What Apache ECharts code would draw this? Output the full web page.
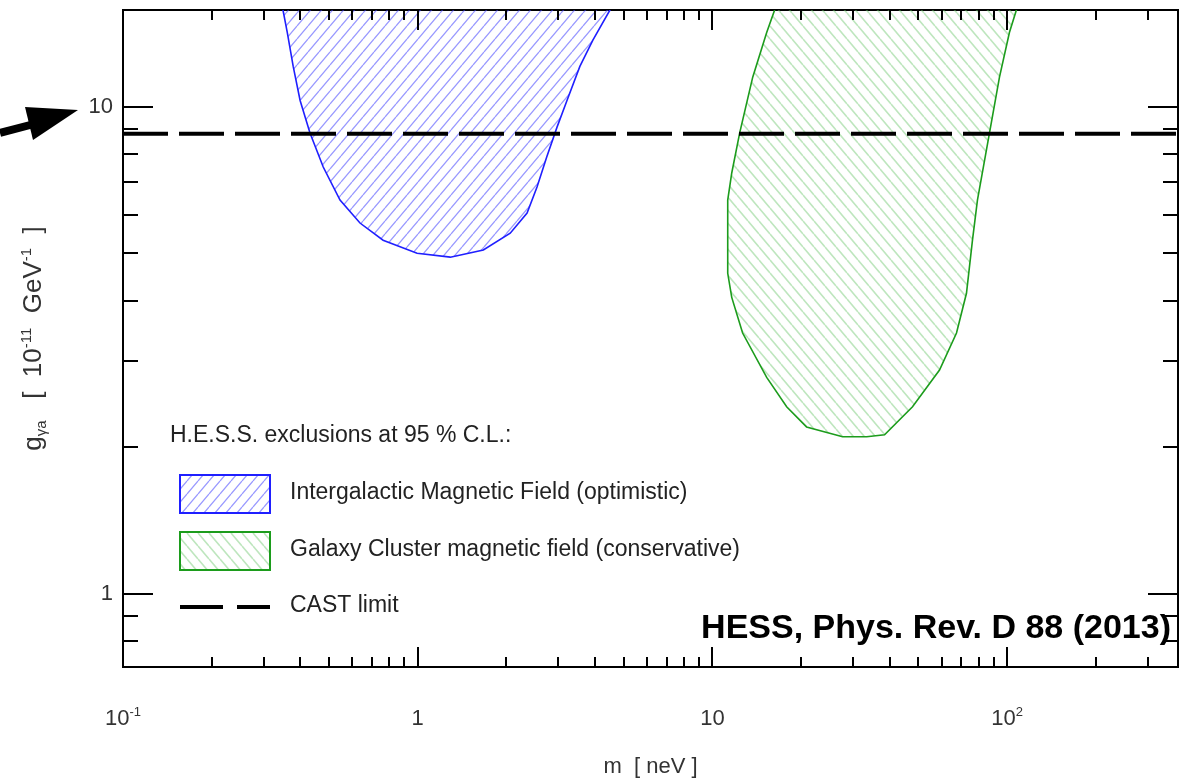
<!DOCTYPE html>
<html><head><meta charset="utf-8">
<script src="https://cdn.jsdelivr.net/npm/echarts@6/dist/echarts.min.js"></script>
<style>html,body{margin:0;padding:0;background:#fff}#c{width:1183px;height:783px}</style>
</head><body><div id="c"></div>
<script>
// ---- tick values ----
const xMajorTicks = [0.1, 1, 10, 100];
const xMinorTicks = [0.2,0.3,0.4,0.5,0.6,0.7,0.8,0.9,2,3,4,5,6,7,8,9,20,30,40,50,60,70,80,90,200,300];
const yMajorTicks = [1, 10];
const yMinorTicks = [0.8,0.9,2,3,4,5,6,7,8,9];
// ---- Intergalactic Magnetic Field (optimistic) exclusion boundary ----
const igmfMass     = [0.335, 0.349, 0.361, 0.378, 0.399, 0.431, 0.478, 0.545, 0.637, 0.763, 0.995, 1.29, 1.67, 2.06, 2.35, 2.54, 2.74, 2.97, 3.21, 3.55, 3.93, 4.49, 5.1];
const igmfCoupling = [18, 15.8, 14.2, 12.1, 10.3, 8.83, 7.52, 6.43, 5.77, 5.32, 5.00, 4.91, 5.08, 5.50, 6.05, 6.84, 7.88, 9.08, 10.3, 12.1, 13.7, 15.8, 18];
// ---- Galaxy Cluster magnetic field (conservative) exclusion boundary ----
const gcMass     = [16.9, 16.26, 15.28, 13.70, 12.37, 11.63, 11.27, 11.27, 11.63, 12.66, 15.28, 17.86, 20.87, 27.65, 33.36, 38.38, 47.75, 58.96, 67.33, 72.78, 76.28, 79.3, 87.1, 94.2, 101.8, 107.5, 111];
const gcCoupling = [18, 15.8, 14.2, 11.5, 8.83, 7.31, 6.43, 4.55, 4.06, 3.43, 2.78, 2.42, 2.20, 2.10, 2.10, 2.12, 2.42, 2.88, 3.43, 4.14, 5.32, 6.43, 8.83, 11.5, 14.2, 15.8, 18];
// ---- CAST limit ----
const castMass = [0.1, 380];
const castCoupling = [8.8, 8.8];

const FONT = '"Liberation Sans", Arial, Helvetica, sans-serif';

function hatch(color, width, dir) {
  const w = 11, h = 13;
  const c = document.createElement('canvas');
  c.width = w; c.height = h;
  const g = c.getContext('2d');
  g.strokeStyle = color; g.lineWidth = width;
  g.beginPath();
  for (let k = -1; k <= 1; k++) {
    if (dir > 0) { g.moveTo(k * w, h); g.lineTo(k * w + w, 0); }
    else { g.moveTo(k * w, 0); g.lineTo(k * w + w, h); }
  }
  g.stroke();
  return c;
}
const bluePat = { image: hatch('rgba(70,70,255,0.55)', 1.3, 1), repeat: 'repeat' };
const greenPat = { image: hatch('rgba(110,200,110,0.45)', 1.6, -1), repeat: 'repeat' };
const blueLine = '#1f1fff';
const greenLine = '#1c9c1c';

function regionSeries(name, xs, ys, stroke, pattern) {
  return {
    type: 'custom', name: name, coordinateSystem: 'cartesian2d', silent: true,
    data: [[xs[0], ys[0]]],
    renderItem: function (params, api) {
      const pts = xs.map(function (x, i) { return api.coord([x, ys[i]]); });
      const cs = params.coordSys;
      return {
        type: 'group',
        clipPath: { type: 'rect', shape: { x: cs.x, y: cs.y, width: cs.width, height: cs.height } },
        children: [
          { type: 'polygon', shape: { points: pts }, style: { fill: pattern, stroke: null } },
          { type: 'polyline', shape: { points: pts }, style: { fill: null, stroke: stroke, lineWidth: 1.6 } }
        ]
      };
    }
  };
}

const tickData = [];
xMajorTicks.forEach(function (v) { tickData.push([v, 1, 0, 1]); });
xMinorTicks.forEach(function (v) { tickData.push([v, 1, 0, 0]); });
yMajorTicks.forEach(function (v) { tickData.push([1, v, 1, 1]); });
yMinorTicks.forEach(function (v) { tickData.push([1, v, 1, 0]); });

const tickSeries = {
  type: 'custom', silent: true, coordinateSystem: 'cartesian2d', z: 5,
  data: tickData,
  renderItem: function (params, api) {
    const cs = params.coordSys;
    const p = api.coord([api.value(0), api.value(1)]);
    const major = api.value(3) === 1;
    const st = { stroke: '#000', lineWidth: 2 };
    if (api.value(2) === 0) {
      const L = major ? 20 : 10, x = Math.round(p[0]);
      const yb = cs.y + cs.height, yt = cs.y;
      return { type: 'group', children: [
        { type: 'line', shape: { x1: x, y1: yb, x2: x, y2: yb - L }, style: st },
        { type: 'line', shape: { x1: x, y1: yt, x2: x, y2: yt + L }, style: st }
      ] };
    } else {
      const L = major ? 30 : 15, y = Math.round(p[1]);
      const xl = cs.x, xr = cs.x + cs.width;
      return { type: 'group', children: [
        { type: 'line', shape: { x1: xl, y1: y, x2: xl + L, y2: y }, style: st },
        { type: 'line', shape: { x1: xr, y1: y, x2: xr - L, y2: y }, style: st }
      ] };
    }
  }
};

function isPow10(v) { const l = Math.log10(v); return Math.abs(l - Math.round(l)) < 1e-6; }

const chart = echarts.init(document.getElementById('c'), null, { renderer: 'canvas' });
chart.setOption({
  animation: false,
  backgroundColor: '#fff',
  grid: { left: 123, right: 5, top: 10, bottom: 116, show: true, borderColor: '#000', borderWidth: 2, backgroundColor: 'transparent' },
  xAxis: {
    type: 'log', logBase: 10, min: 0.1, max: 380,
    axisLine: { show: false }, axisTick: { show: false }, splitLine: { show: false }, minorTick: { show: false },
    axisLabel: {
      margin: 39, color: '#333', fontFamily: FONT, fontSize: 22,
      formatter: function (v) {
        if (!isPow10(v)) return '';
        const e = Math.round(Math.log10(v));
        if (e === 0) return '{b|1}';
        if (e === 1) return '{b|10}';
        return '{b|10}{s|' + e + '}';
      },
      rich: { b: { fontSize: 22, fontFamily: FONT, color: '#333', lineHeight: 26 }, s: { fontSize: 13, fontFamily: FONT, color: '#333', verticalAlign: 'top', lineHeight: 14 } }
    },
    name: 'm  [ neV ]', nameLocation: 'middle', nameGap: 89,
    nameTextStyle: { fontFamily: FONT, fontSize: 22, color: '#333' }
  },
  yAxis: {
    type: 'log', logBase: 10, min: 0.707, max: 15.8,
    axisLine: { show: false }, axisTick: { show: false }, splitLine: { show: false }, minorTick: { show: false },
    axisLabel: {
      margin: 10, color: '#333', fontFamily: FONT, fontSize: 22,
      formatter: function (v) { return isPow10(v) ? String(Math.round(v)) : ''; }
    },
    name: '{b|g}{sub|γa}{b|   [  10}{sup|-11}{b|  GeV}{sup|-1}{b|  ]}', nameLocation: 'middle', nameGap: 74,
    nameTextStyle: {
      rich: {
        b: { fontFamily: FONT, fontSize: 26, color: '#333', lineHeight: 30 },
        sub: { fontFamily: FONT, fontSize: 15, color: '#333', verticalAlign: 'bottom', lineHeight: 16 },
        sup: { fontFamily: FONT, fontSize: 15, color: '#333', verticalAlign: 'top', lineHeight: 16 }
      }
    }
  },
  series: [
    regionSeries('Intergalactic Magnetic Field (optimistic)', igmfMass, igmfCoupling, blueLine, bluePat),
    regionSeries('Galaxy Cluster magnetic field (conservative)', gcMass, gcCoupling, greenLine, greenPat),
    {
      type: 'line', name: 'CAST limit', symbol: 'none', silent: true, z: 4,
      data: castMass.map(function (x, i) { return [x, castCoupling[i]]; }),
      lineStyle: { color: '#000', width: 4, type: [45, 11] }
    },
    tickSeries
  ],
  graphic: [
    { type: 'text', left: 170, top: 424, style: { text: 'H.E.S.S. exclusions at 95 % C.L.:', font: '23px ' + FONT, fill: '#222' } },
    { type: 'rect', shape: { x: 180, y: 475, width: 90, height: 38 }, style: { fill: bluePat, stroke: blueLine, lineWidth: 2 } },
    { type: 'text', left: 290, top: 481, style: { text: 'Intergalactic Magnetic Field (optimistic)', font: '23px ' + FONT, fill: '#222' } },
    { type: 'rect', shape: { x: 180, y: 532, width: 90, height: 38 }, style: { fill: greenPat, stroke: greenLine, lineWidth: 2 } },
    { type: 'text', left: 290, top: 538, style: { text: 'Galaxy Cluster magnetic field (conservative)', font: '23px ' + FONT, fill: '#222' } },
    { type: 'line', shape: { x1: 180, y1: 607, x2: 270, y2: 607 }, style: { stroke: '#000', lineWidth: 4, lineDash: [43, 14] } },
    { type: 'text', left: 290, top: 594, style: { text: 'CAST limit', font: '23px ' + FONT, fill: '#222' } },
    { type: 'text', right: 12, top: 612, z: 10, style: { text: 'HESS, Phys. Rev. D 88 (2013)', font: 'bold 34px ' + FONT, fill: '#000' } },
    { type: 'line', shape: { x1: 0, y1: 133, x2: 34, y2: 124 }, style: { stroke: '#000', lineWidth: 8 } },
    { type: 'polygon', shape: { points: [[25, 107], [78, 110], [33, 140]] }, style: { fill: '#000' } }
  ]
});
</script>
</body></html>
